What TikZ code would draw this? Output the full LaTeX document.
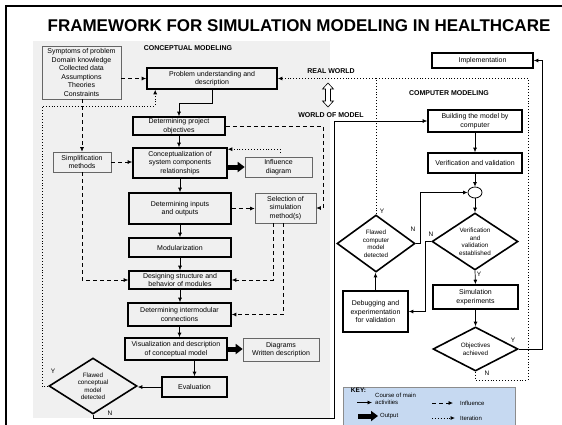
\documentclass[tikz,border=0pt]{standalone}
\usepackage{fontspec}
\setmainfont{Liberation Sans}
\usetikzlibrary{arrows.meta, shapes.geometric}
\definecolor{keyblue}{RGB}{198,217,241}
\definecolor{bggray}{RGB}{240,240,240}
\tikzset{every node/.append style={align=center, inner sep=1pt}}

\begin{document}
\begin{tikzpicture}[x=1pt, y=-1pt, font=\fontsize{7}{8.5}\selectfont,
    proc/.style={rectangle, draw, line width=1.6pt},
    aux/.style={rectangle, draw=black!60, line width=0.6pt},
    dec/.style={diamond, draw, line width=1.6pt, font=\fontsize{6.3}{7.5}\selectfont},
    head/.style={font=\bfseries\fontsize{7}{8}\selectfont},
    yn/.style={font=\fontsize{6.5}{7}\selectfont},
    keytxt/.style={anchor=west, align=left, font=\fontsize{6}{7.5}\selectfont},
    course/.style={-{Latex[length=4.5pt, width=4pt]}, line width=0.7pt},
    influ/.style={course, dash pattern=on 4pt off 3pt},
    iterline/.style={line width=0.8pt, dash pattern=on 0.9pt off 2pt},
    iter/.style={iterline, -{Latex[length=4.5pt, width=4pt]}},
    outp/.style={line width=5pt, -{Triangle[length=7pt, width=10pt]}}]
\useasboundingbox (0,0) rectangle (562,424);
\fill[bggray] (33,41) rectangle (330,418);
\draw[line width=2.2pt] (6,430) -- (6,6) -- (565,6);
\node[font=\bfseries\fontsize{17}{20}\selectfont] (title) at (299,26) {FRAMEWORK FOR SIMULATION MODELING IN HEALTHCARE};

% conceptual modeling
\node[head] (cmlab) at (188,48) {CONCEPTUAL MODELING};
\node[aux, minimum width=79pt, minimum height=53pt] (inp) at (81.5,72.5) {Symptoms of problem\\Domain knowledge\\Collected data\\Assumptions\\Theories\\Constraints};
\node[proc, minimum width=130pt, minimum height=21pt] (prob) at (212,78.5) {Problem understanding and\\description};
\node[proc, minimum width=92pt, minimum height=18pt] (obj) at (179,126) {Determining project\\objectives};
\node[proc, minimum width=94pt, minimum height=30pt] (conc) at (180,163) {Conceptualization of\\system components\\relationships};
\node[aux, minimum width=58pt, minimum height=20pt] (simp) at (82,162) {Simplification\\methods};
\node[aux, minimum width=67pt, minimum height=20pt] (infd) at (278.5,167) {Influence\\diagram};
\node[proc, minimum width=102pt, minimum height=31pt] (inout) at (180,208.5) {Determining inputs\\and outputs};
\node[aux, minimum width=61pt, minimum height=30pt] (sel) at (285.5,208) {Selection of\\simulation\\method(s)};
\node[proc, minimum width=102pt, minimum height=19pt] (modu) at (180,247.5) {Modularization};
\node[proc, minimum width=102pt, minimum height=18pt] (desi) at (180,280) {Designing structure and\\behavior of modules};
\node[proc, minimum width=103pt, minimum height=23pt] (inter) at (179.5,314.5) {Determining intermodular\\connections};
\node[proc, minimum width=102pt, minimum height=22pt] (visu) at (176,349) {Visualization and description\\of conceptual model};
\node[aux, minimum width=76pt, minimum height=23pt] (diag) at (281,349.5) {Diagrams\\Written description};
\node[proc, minimum width=65pt, minimum height=20pt] (eval) at (194.5,387) {Evaluation};
\node[dec, aspect=1.57, minimum width=88pt, minimum height=56pt] (fcon) at (93,386) {Flawed\\conceptual\\model\\detected};

\draw[influ] (inp.east |- prob.west) -- (prob.west);
\draw[influ] (simp.north |- inp.south) -- (simp.north);
\draw[influ] (simp.east) -- (simp.east -| conc.west);
\draw[influ] (simp.south) |- (desi.west);
\coordinate (itl) at (42,106);
\draw[iter] (fcon.west) -| (itl) -| ([xshift=9pt]prob.south west);
\draw[course] (prob.south) -- ++(0,14) -| (obj.north);
\draw[course] (obj.south) -- (obj.south |- conc.north);
\coordinate (objr) at (323,126);
\draw[influ] (obj.east) -- (objr) |- (sel.east);
\draw[outp] (conc.east |- infd.west) -- (infd.west);
\coordinate (stub) at (280,153);
\draw[iter] (stub) |- ([yshift=-2pt]conc.north east);
\draw[course] (conc.south) -- (conc.south |- inout.north);
\draw[influ] (inout.east) -- (inout.east -| sel.west);
\draw[course] (inout.south) -- (modu.north);
\draw[course] (modu.south) -- (desi.north);
\draw[course] (desi.south) -- (desi.south |- inter.north);
\draw[influ] ([xshift=-12pt]sel.south) |- (desi.east);
\draw[influ] ([xshift=-2pt]sel.south) |- (inter.east);
\draw[course] (inter.south) -- (inter.south |- visu.north);
\draw[outp] (visu.east) -- (visu.east -| diag.west);
\draw[course] (visu.south -| eval.north) -- (eval.north);
\draw[course] (eval.west) -- (eval.west -| fcon.east);
\node[yn] (ycon) at (53,371) {Y};
\node[yn] (ncon) at (110,413) {N};

% real world / world of model
\node[head] (rw) at (331,71) {REAL WORLD};
\node[head] (wm) at (331,115) {WORLD OF MODEL};
\draw[fill=white, line width=0.6pt] (328,83) -- (333.5,89) -- (330.5,89) -- (330.5,101) -- (333.5,101) -- (328,107) -- (322.5,101) -- (325.5,101) -- (325.5,89) -- (322.5,89) -- cycle;

% computer modeling
\node[proc, minimum width=101pt, minimum height=15pt] (impl) at (482.5,60.5) {Implementation};
\node[head] (cplab) at (449,93) {COMPUTER MODELING};
\node[proc, minimum width=94pt, minimum height=22pt] (build) at (475,121) {Building the model by\\computer};
\node[proc, minimum width=94pt, minimum height=20pt] (veri) at (475,163) {Verification and validation};
\node[ellipse, draw, line width=0.8pt, minimum width=14pt, minimum height=11pt, inner sep=0pt] (join) at (475,192.5) {};
\node[dec, aspect=1.51, minimum width=86pt, minimum height=57pt] (vdia) at (475,241.5) {Verification\\and\\validation\\established};
\node[dec, aspect=1.37, minimum width=78pt, minimum height=57pt] (fcom) at (376,243.5) {Flawed\\computer\\model\\detected};
\node[proc, minimum width=65pt, minimum height=41pt] (debu) at (375.5,311.5) {Debugging and\\experimentation\\for validation};
\node[proc, minimum width=85pt, minimum height=24pt] (simu) at (475.5,297) {Simulation\\experiments};
\node[dec, aspect=1.93, minimum width=85pt, minimum height=44pt] (objd) at (475.5,349) {Objectives\\achieved};

\coordinate (nb) at (334,418);
\draw[course] (fcon.south) |- (nb) |- (build.west);
\draw[course] (build.south) -- (veri.north);
\draw[course] (veri.south) -- (join.north);
\draw[course] (join.south) -- (vdia.north);
\draw[course] (fcom.east) -- ++(5,0) |- (join.west);
\draw[course] (vdia.west) -- ++(-6,0) |- (debu.east);
\draw[course] (debu.north) -- (debu.north |- fcom.south);
\draw[course] (vdia.south) -- (simu.north);
\draw[course] (simu.south) -- (objd.north);
\coordinate (ir) at (542,60.5);
\draw[course] (objd.east) -| (ir) -- (impl.east);
\draw[iter] (fcom.north) |- (prob.east);
\coordinate (rr) at (528,380);
\draw[iterline] (objd.south) |- (rr) |- (fcom.north |- prob.east);
\node[yn] (ycom) at (382,211) {Y};
\node[yn] (ncom) at (413,229) {N};
\node[yn] (nver) at (431,234) {N};
\node[yn] (yver) at (479,274) {Y};
\node[yn] (yobj) at (513,340) {Y};
\node[yn] (nobj) at (487,373) {N};

% key
\draw[fill=keyblue, draw=black!45, line width=0.6pt] (343,387) rectangle (515,430);
\node[font=\bfseries\fontsize{6.5}{7}\selectfont] (keyt) at (358.5,390.5) {KEY:};
\node[keytxt] (kcour) at (374,399) {Course of main\\activities};
\node[keytxt] (kinf) at (459,403) {Influence};
\node[keytxt] (kout) at (379,416) {Output};
\node[keytxt] (kit) at (459,418) {Iteration};
\draw[course] ([xshift=-17pt, yshift=-3.5pt]kcour.west) -- ([xshift=-2pt, yshift=-3.5pt]kcour.west);
\draw[influ] ([xshift=-27pt]kinf.west) -- ([xshift=-6pt]kinf.west);
\draw[outp] ([xshift=-21pt]kout.west) -- ([xshift=-1pt]kout.west);
\draw[iter] ([xshift=-27pt]kit.west) -- ([xshift=-4pt]kit.west);
\end{tikzpicture}
\end{document}
